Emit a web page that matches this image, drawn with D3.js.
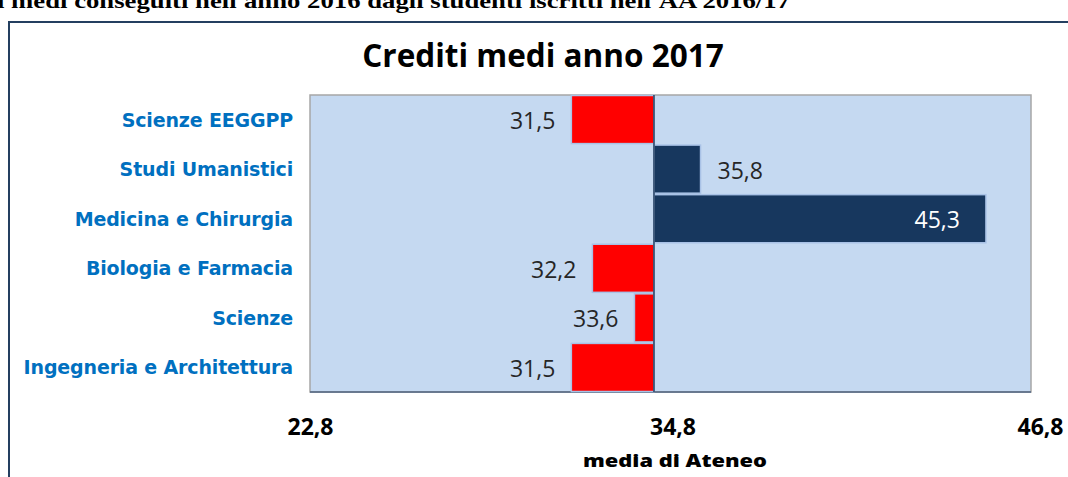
<!DOCTYPE html>
<html>
<head>
<meta charset="utf-8">
<script src="https://cdn.jsdelivr.net/npm/d3@7"></script>
<style>
  body { margin: 0; background: #fff; }
  svg { display: block; }
</style>
</head>
<body>
<svg width="1068" height="477"></svg>
<script>
// chart data
var categories = ["Scienze EEGGPP", "Studi Umanistici", "Medicina e Chirurgia", "Biologia e Farmacia", "Scienze", "Ingegneria e Architettura"];
var crediti = [31.5, 35.8, 45.3, 32.2, 33.6, 31.5];
var tickValues = [22.8, 34.8, 46.8];
var media = 34.25; // where the bars start (vertical axis crossing)

var svg = d3.select("svg");
var plot = {left: 310, right: 1031, top: 95, bottom: 392};

var x = d3.scaleLinear().domain([22.8, 46.8]).range([plot.left, plot.right]);
var y = d3.scaleBand().domain(categories).range([plot.top, plot.bottom]).paddingInner(0.03).paddingOuter(0.01);

var fmt = function (v) { return d3.format(".1f")(v).replace(".", ","); };

// page heading, cut off at the top left
svg.append("text")
        .attr("x", -3)
        .attr("y", 8)
        .attr("font-family", "'Liberation Serif', serif")
        .attr("font-weight", "bold")
        .attr("font-size", 21)
        .attr("textLength", 793)
        .attr("lengthAdjust", "spacingAndGlyphs")
        .attr("fill", "#000")
        .text("i medi conseguiti nell'anno 2016 dagli studenti iscritti nell'AA 2016/17");

// outer frame
svg.append("rect")
        .attr("x", 9).attr("y", 22)
        .attr("width", 1100).attr("height", 500)
        .attr("fill", "none")
        .attr("stroke", "#243f60")
        .attr("stroke-width", 2);

// title
svg.append("text")
        .attr("x", 543)
        .attr("y", 67)
        .attr("text-anchor", "middle")
        .attr("font-family", "'Open Sans', sans-serif")
        .attr("font-weight", "bold")
        .attr("font-size", 31.5)
        .attr("fill", "#000")
        .text("Crediti medi anno 2017");

// plot area
svg.append("rect")
        .attr("x", plot.left).attr("y", plot.top)
        .attr("width", plot.right - plot.left).attr("height", plot.bottom - plot.top)
        .attr("fill", "#c5d9f1")
        .attr("stroke", "#a6a6a6")
        .attr("stroke-width", 1.5);

svg.append("line")
        .attr("x1", plot.left).attr("x2", plot.right)
        .attr("y1", plot.bottom).attr("y2", plot.bottom)
        .attr("stroke", "#4f6582")
        .attr("stroke-width", 1.5);

// bars
svg.append("g").selectAll("rect")
        .data(crediti)
        .join("rect")
        .attr("x", function (d) { return x(Math.min(d, media)); })
        .attr("y", function (d, i) { return y(categories[i]); })
        .attr("width", function (d) { return Math.abs(x(d) - x(media)); })
        .attr("height", y.bandwidth())
        .attr("fill", function (d) { return d < media ? "#ff0000" : "#17375e"; })
        .attr("stroke", "#a9c2e6")
        .attr("stroke-width", 1.5);

// baseline
svg.append("line")
        .attr("x1", x(media)).attr("x2", x(media))
        .attr("y1", plot.top).attr("y2", plot.bottom)
        .attr("stroke", "#243f60")
        .attr("stroke-width", 1.5);

// value labels
svg.append("g").selectAll("text")
        .data(crediti)
        .join("text")
        .attr("x", function (d) {
            if (d < media) return x(d) - 16;
            if (d > 42) return x(d) - 26;
            return x(d) + 17;
        })
        .attr("y", function (d, i) { return y(categories[i]) + y.bandwidth() / 2 + 9.5; })
        .attr("text-anchor", function (d) { return d < media || d > 42 ? "end" : "start"; })
        .attr("font-family", "'Open Sans', sans-serif")
        .attr("font-size", 23)
        .attr("fill", function (d) { return d > 42 ? "#fff" : "#262626"; })
        .text(fmt);

// category labels
svg.append("g").selectAll("text")
        .data(categories)
        .join("text")
        .attr("x", 293)
        .attr("y", function (d) { return y(d) + y.bandwidth() / 2 + 7; })
        .attr("text-anchor", "end")
        .attr("font-family", "'DejaVu Sans', sans-serif")
        .attr("font-weight", "bold")
        .attr("font-size", 19)
        .attr("letter-spacing", -0.15)
        .attr("fill", "#0070c0")
        .text(function (d) { return d; });

// x axis tick labels
var xAxis = d3.axisBottom(x).tickValues(tickValues).tickSize(0).tickPadding(0).tickFormat(fmt);
var gx = svg.append("g")
        .attr("transform", "translate(0," + 419 + ")")
        .call(xAxis);
gx.select(".domain").remove();
gx.selectAll("text")
        .attr("dx", function (d, i) { return [0, 2, 9][i]; })
        .attr("font-family", "'Open Sans', sans-serif")
        .attr("font-weight", "bold")
        .attr("font-size", 23)
        .attr("fill", "#000");

svg.append("text")
        .attr("x", 675)
        .attr("y", 467)
        .attr("text-anchor", "middle")
        .attr("font-family", "'Open Sans', sans-serif")
        .attr("font-weight", 800)
        .attr("font-size", 17)
        .attr("textLength", 184)
        .attr("lengthAdjust", "spacingAndGlyphs")
        .attr("fill", "#000")
        .text("media di Ateneo");
</script>
</body>
</html>
